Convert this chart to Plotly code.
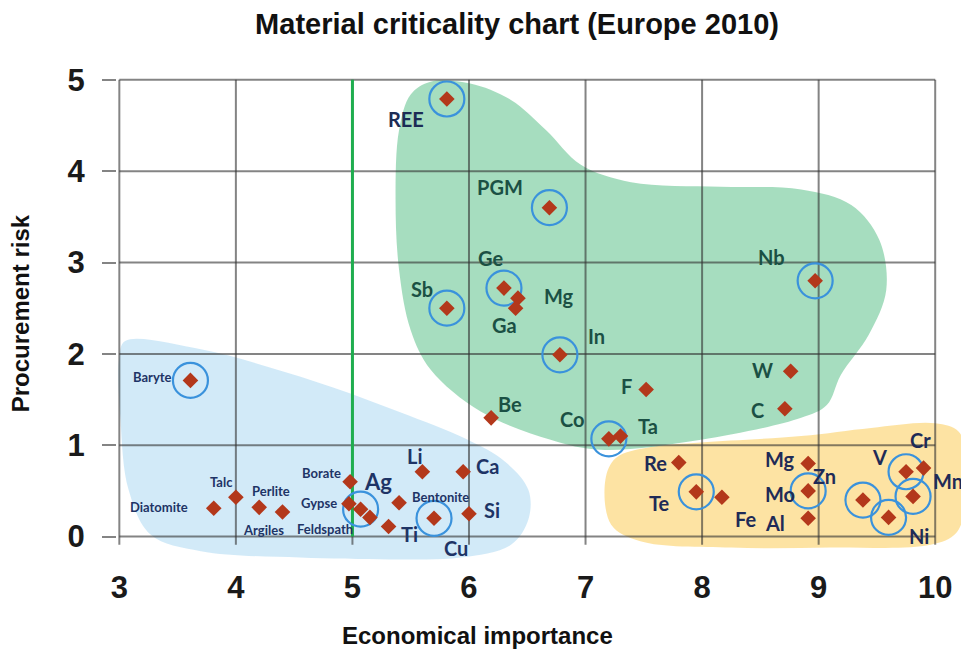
import plotly.graph_objects as go

# ---------------- data ----------------
# Critical raw materials (green zone)
critical_names = ["REE", "PGM", "Ge", "Mg", "Ga", "Sb", "In", "Nb", "W", "C", "F", "Co", "Ta", "Be"]
critical_econ = [5.81, 6.69, 6.30, 6.42, 6.40, 5.81, 6.78, 8.97, 8.76, 8.71, 7.52, 7.20, 7.30, 6.19]
critical_risk = [4.79, 3.60, 2.72, 2.61, 2.50, 2.50, 1.99, 2.80, 1.81, 1.40, 1.61, 1.07, 1.10, 1.30]

# Low economic importance (blue zone)
low_names = ["Baryte", "Diatomite", "Talc", "Perlite", "Argiles", "Borate", "Gypse", "Ag",
             "Feldspath", "Ti", "Bentonite", "Li", "Ca", "Si", "Cu"]
low_econ = [3.61, 3.81, 4.00, 4.20, 4.40, 4.98, 4.97, 5.07, 5.15, 5.31, 5.40, 5.60, 5.95, 6.00, 5.70]
low_risk = [1.71, 0.31, 0.43, 0.32, 0.27, 0.60, 0.36, 0.30, 0.21, 0.11, 0.37, 0.71, 0.71, 0.25, 0.20]

# Low supply risk (yellow zone)
lowrisk_names = ["Re", "Te", "Fe", "Mg", "Mo", "Al", "Zn", "Ni", "V", "Cr", "Mn"]
lowrisk_econ = [7.80, 7.95, 8.17, 8.91, 8.91, 8.91, 9.38, 9.60, 9.75, 9.90, 9.81]
lowrisk_risk = [0.81, 0.49, 0.43, 0.80, 0.50, 0.20, 0.40, 0.21, 0.71, 0.75, 0.44]

# materials highlighted with a circle
circled = {"critical": ["REE", "PGM", "Ge", "Sb", "In", "Nb", "Co"],
           "low": ["Baryte", "Ag", "Cu"],
           "lowrisk": ["Te", "Mo", "Zn", "Ni", "V", "Mn"]}

x_ticks = [3, 4, 5, 6, 7, 8, 9, 10]
y_ticks = [0, 1, 2, 3, 4, 5]
threshold_econ = 5

# zone outlines (economical importance, procurement risk)
green_zone_x = [5.67, 6.01, 6.36, 6.66, 6.96, 7.39, 8.16, 8.85, 9.28, 9.52, 9.58, 9.43, 9.19, 9.07,
                8.85, 7.99, 7.13, 6.70, 6.10, 5.67, 5.50, 5.40, 5.37, 5.40, 5.50]
green_zone_y = [4.98, 4.96, 4.78, 4.45, 4.07, 3.88, 3.83, 3.80, 3.63, 3.25, 2.70, 2.21, 1.77, 1.44,
                1.30, 1.06, 0.95, 1.06, 1.37, 1.83, 2.26, 2.92, 3.69, 4.45, 4.84]
blue_zone_x = [3.05, 3.70, 4.27, 4.84, 5.41, 5.99, 6.31, 6.51, 6.51, 6.36, 5.93, 5.41, 4.55, 3.70,
               3.27, 3.08, 3.01, 3.00]
blue_zone_y = [2.14, 2.05, 1.86, 1.63, 1.36, 1.06, 0.82, 0.51, 0.19, -0.09, -0.23, -0.25, -0.23,
               -0.16, 0.02, 0.51, 1.28, 1.96]
yellow_zone_x = [7.17, 7.26, 7.56, 7.99, 8.85, 9.45, 10.00, 10.20, 10.28, 10.27, 10.18, 9.96, 9.10,
                 8.25, 7.47, 7.22]
yellow_zone_y = [0.62, 0.86, 0.98, 1.03, 1.10, 1.19, 1.24, 1.15, 0.84, 0.40, 0.04, -0.09, -0.12,
                 -0.12, -0.05, 0.13]

# ---------------- styling (positions / sizes / colours) ----------------
label_offsets = {  # pixel offsets (dx right, dy up) of each label from its point
    ("critical", "REE"): (-41, -20), ("critical", "PGM"): (-49, 21), ("critical", "Ge"): (-13, 30),
    ("critical", "Mg"): (41, 2), ("critical", "Ga"): (-11, -17), ("critical", "Sb"): (-25, 19),
    ("critical", "In"): (37, 19), ("critical", "Nb"): (-44, 24), ("critical", "W"): (-28, 1),
    ("critical", "C"): (-27, -1), ("critical", "F"): (-20, 4), ("critical", "Co"): (-36, 20),
    ("critical", "Ta"): (27, 10), ("critical", "Be"): (19, 14),
    ("low", "Baryte"): (-38, 3), ("low", "Diatomite"): (-55, 1), ("low", "Talc"): (-14, 15),
    ("low", "Perlite"): (12, 16), ("low", "Argiles"): (-19, -18), ("low", "Borate"): (-29, 9),
    ("low", "Gypse"): (-30, 1), ("low", "Ag"): (17, 28), ("low", "Feldspath"): (-45, -12),
    ("low", "Ti"): (21, -7), ("low", "Bentonite"): (41, 6), ("low", "Li"): (-8, 16),
    ("low", "Ca"): (24, 6), ("low", "Si"): (23, 4), ("low", "Cu"): (22, -30),
    ("lowrisk", "Re"): (-23, 0), ("lowrisk", "Te"): (-37, -11), ("lowrisk", "Fe"): (24, -22),
    ("lowrisk", "Mg"): (-28, 5), ("lowrisk", "Mo"): (-28, -3), ("lowrisk", "Al"): (-33, -5),
    ("lowrisk", "Zn"): (-38, 24), ("lowrisk", "Ni"): (30, -19), ("lowrisk", "V"): (-27, 15),
    ("lowrisk", "Cr"): (-3, 28), ("lowrisk", "Mn"): (35, 15),
}
small_labels = {"Baryte", "Diatomite", "Talc", "Perlite", "Argiles", "Borate", "Gypse", "Feldspath", "Bentonite"}
label_color = {"critical": "#1b5044", "low": "#1e3466", "lowrisk": "#1f2b57"}
label_color_override = {("critical", "REE"): "#1c2c55"}
LABEL_FONT = "Lato, 'Open Sans', sans-serif"
AXIS_FONT = "'Liberation Sans', Arial, sans-serif"

groups = {
    "critical": (critical_names, critical_econ, critical_risk),
    "low": (low_names, low_econ, low_risk),
    "lowrisk": (lowrisk_names, lowrisk_econ, lowrisk_risk),
}

fig = go.Figure()

# zones
for zx, zy, col in [(yellow_zone_x, yellow_zone_y, "rgba(253,226,158,0.95)"),
                    (green_zone_x, green_zone_y, "rgba(150,215,180,0.85)"),
                    (blue_zone_x, blue_zone_y, "rgba(205,232,247,0.9)")]:
    fig.add_trace(go.Scatter(x=zx + zx[:1], y=zy + zy[:1], mode="lines", fill="toself",
                             fillcolor=col, line=dict(width=0, shape="spline", smoothing=1.0),
                             hoverinfo="skip", showlegend=False))

# grid / frame
gx, gy = [], []
for v in x_ticks:
    gx += [v, v, None]
    gy += [-0.09, y_ticks[-1], None]
for h in y_ticks:
    gx += [x_ticks[0], x_ticks[-1], None]
    gy += [h, h, None]
fig.add_trace(go.Scatter(x=gx, y=gy, mode="lines", line=dict(color="rgba(50,50,50,0.6)", width=2),
                         hoverinfo="skip", showlegend=False))

# threshold line
fig.add_trace(go.Scatter(x=[threshold_econ, threshold_econ], y=[y_ticks[0], y_ticks[-1]], mode="lines",
                         line=dict(color="#1fae4f", width=3), hoverinfo="skip", showlegend=False))

# circles
cx, cy = [], []
for g, (names, ex, ry) in groups.items():
    for n, a, b in zip(names, ex, ry):
        if n in circled[g]:
            cx.append(a)
            cy.append(b)
fig.add_trace(go.Scatter(x=cx, y=cy, mode="markers", cliponaxis=False,
                         marker=dict(symbol="circle-open", size=35, color="#3a92dc",
                                     line=dict(width=2.2, color="#3a92dc")),
                         hoverinfo="skip", showlegend=False))

# points
for g, (names, ex, ry) in groups.items():
    fig.add_trace(go.Scatter(x=ex, y=ry, mode="markers", text=names, name=g, cliponaxis=False,
                             marker=dict(symbol="diamond", size=12, color="#b3381b",
                                         line=dict(width=0)),
                             hovertemplate="%{text}: (%{x}, %{y})<extra></extra>", showlegend=False))
    for n, a, b in zip(names, ex, ry):
        dx, dy = label_offsets[(g, n)]
        if n in small_labels:
            size = 13
        elif n == "Ag":
            size = 22
        else:
            size = 20
        fig.add_annotation(x=a, y=b, text="<b>%s</b>" % n, showarrow=False, xshift=dx, yshift=dy,
                           xanchor="center", yanchor="middle",
                           font=dict(family=LABEL_FONT, size=size,
                                     color=label_color_override.get((g, n), label_color[g])))

# axis titles
fig.add_annotation(xref="paper", yref="paper", x=0.4237, y=-0.148, showarrow=False,
                   text="<b>Economical importance</b>", xanchor="center", yanchor="middle",
                   font=dict(family=AXIS_FONT, size=24, color="#111111"))
fig.add_annotation(xref="paper", yref="paper", x=-0.1138, y=0.516, showarrow=False, textangle=-90,
                   text="<b>Procurement risk</b>", xanchor="center", yanchor="middle",
                   font=dict(family=AXIS_FONT, size=24, color="#111111"))

fig.update_layout(
    width=969, height=654,
    margin=dict(l=109, r=8, t=70, b=98, autoexpand=False),
    paper_bgcolor="white", plot_bgcolor="white",
    title=dict(text="<b>Material criticality chart (Europe 2010)</b>", x=0.5253, xref="container",
               xanchor="center", y=0.976, yref="container", yanchor="middle",
               font=dict(family=AXIS_FONT, size=29, color="#111111")),
    xaxis=dict(range=[2.98, 10.29], tickvals=x_ticks, ticktext=["<b>%d</b>" % v for v in x_ticks],
               showgrid=False, zeroline=False, showline=False, ticks="", ticklabelstandoff=2,
               automargin=False,
               tickfont=dict(family=AXIS_FONT, size=31, color="#1a1a1a")),
    yaxis=dict(range=[-0.3, 5.02], tickvals=y_ticks, ticktext=["<b>%d</b>" % v for v in y_ticks],
               showgrid=False, zeroline=False, showline=False, ticks="outside", ticklen=14,
               tickwidth=2, tickcolor="rgba(50,50,50,0.6)", ticklabelstandoff=11, automargin=False,
               tickfont=dict(family=AXIS_FONT, size=31, color="#1a1a1a")),
    showlegend=False,
)

fig.write_html("out.html")
